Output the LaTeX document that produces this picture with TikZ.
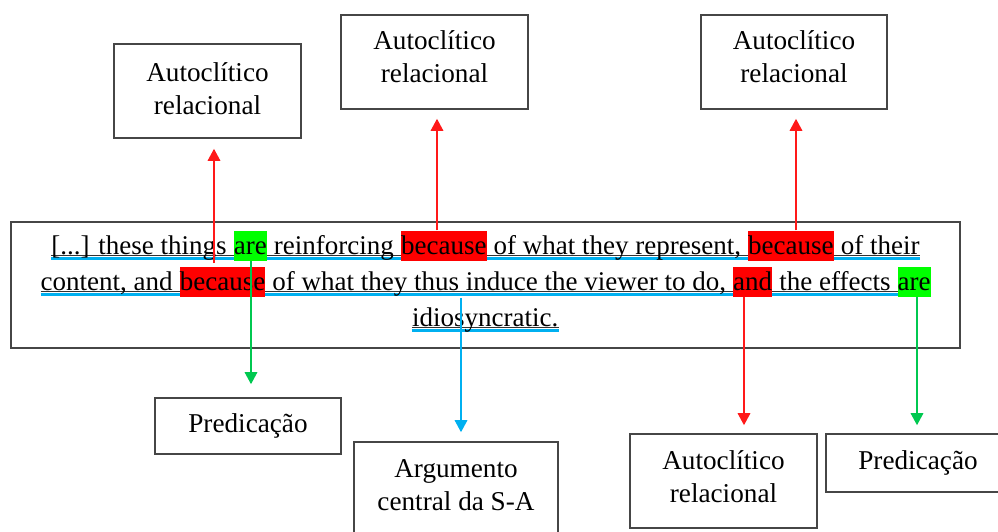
\documentclass[tikz,border=0pt]{standalone}
\usepackage{fontspec}
\setmainfont{Liberation Serif}
\usetikzlibrary{arrows.meta,calc}

\definecolor{hlred}{RGB}{255,0,0}
\definecolor{hlgreen}{RGB}{0,255,0}
\definecolor{linkred}{RGB}{255,25,25}
\definecolor{linkgreen}{RGB}{0,200,80}
\definecolor{linkblue}{RGB}{0,176,240}
\definecolor{framegray}{RGB}{70,70,70}

\newcommand\quotefont{\fontsize{27}{32}\selectfont}
\newcommand\labelfont{\fontsize{27.2}{33}\selectfont}
\newlength\wordgap
\newlength\rowA
\newlength\rowB
\newlength\rowC

\pgfdeclarelayer{under}
\pgfsetlayers{under,main}

\begin{document}
% widths of the quotation lines, used to centre them
\settowidth{\wordgap}{\quotefont\ }
\settowidth{\rowA}{\quotefont [...] these things are reinforcing because of what they represent, because of their}
\settowidth{\rowB}{\quotefont content, and because of what they thus induce the viewer to do, and the effects are}
\settowidth{\rowC}{\quotefont idiosyncratic.}
\begin{tikzpicture}[x=1pt,y=-1pt,
  lbl/.style={draw=framegray, line width=1.6pt, minimum width=187pt,
    minimum height=94pt, align=center, font=\labelfont, inner sep=0pt},
  lbltop/.style={lbl, execute at end node={\rule[-#1]{0pt}{0pt}}},
  word/.style={inner sep=0pt, anchor=base west, font=\quotefont},
  hl/.style={word, text height=23.5pt, text depth=6.5pt},
  hlred/.style={hl, fill=hlred},
  hlgreen/.style={hl, fill=hlgreen},
  textrule/.style={line width=1pt, black!80},
  bluerule/.style={line width=2.6pt, linkblue},
  link/.style={line width=1.6pt, -{Triangle[length=12pt,width=12.5pt]}}]

\useasboundingbox (0,0) rectangle (998,532);

% frame around the quotation
\node[draw=framegray, line width=1.6pt, minimum width=949pt, minimum height=126pt, inner sep=0pt] (quote) at (485.5,285) {};

% first line of the quotation
\node[word, xshift=-0.5*\rowA] (l1a) at (484,254) {[...] these things};
\node[hlgreen, xshift=\wordgap] (g1) at (l1a.base east) {are};
\node[word, xshift=\wordgap] (l1b) at (g1.base east) {reinforcing};
\node[hlred, xshift=\wordgap] (b1) at (l1b.base east) {because};
\node[word, xshift=\wordgap] (l1c) at (b1.base east) {of what they represent,};
\node[hlred, xshift=\wordgap] (b2) at (l1c.base east) {because};
\node[word, xshift=\wordgap] (l1d) at (b2.base east) {of their};

% second line
\node[word, xshift=-0.5*\rowB] (l2a) at (484.5,290) {content, and};
\node[hlred, xshift=\wordgap] (b3) at (l2a.base east) {because};
\node[word, xshift=\wordgap] (l2b) at (b3.base east) {of what they thus induce the viewer to do,};
\node[hlred, xshift=\wordgap] (n1) at (l2b.base east) {and};
\node[word, xshift=\wordgap] (l2c) at (n1.base east) {the effects};
\node[hlgreen, xshift=\wordgap] (g2) at (l2c.base east) {are};

% third line
\node[word, xshift=-0.5*\rowC] (l3) at (485,326) {idiosyncratic.};

% underlines beneath each line
\begin{pgfonlayer}{under}
  \foreach \s/\e in {l1a/l1d, l2a/g2, l3/l3} {
    \draw[textrule] ([yshift=-1.5pt]\s.base west) -- ([yshift=-1.5pt]\e.base east);
    \draw[bluerule] ([yshift=-4.2pt]\s.base west) -- ([yshift=-4.2pt]\e.base east);
  }
\end{pgfonlayer}

% category boxes
\node[lbltop=5pt] (a1) at (207.5,91) {Autoclítico\\relacional};
\node[lbltop=10pt] (a2) at (434.5,62) {Autoclítico\\relacional};
\node[lbltop=10pt, minimum width=186pt] (a3) at (794,62) {Autoclítico\\relacional};
\node[lbl, minimum width=186pt, minimum height=56pt] (p1) at (248,426) {Predicação};
\node[lbltop=8pt, minimum width=204pt] (arg) at (456,489) {Argumento\\central da S-A};
\node[lbltop=8pt] (a4) at (723.5,481) {Autoclítico\\relacional};
\node[lbl, minimum width=184pt, minimum height=58pt] (p2) at (918,463) {Predicação};

% connectors (start points on the marked words)
\coordinate (s1) at (214,263);
\coordinate (s2) at (b1.north -| 437,0);
\coordinate (s3) at (b2.north -| 796,0);
\coordinate (s4) at (g1.south -| 251,0);
\coordinate (s5) at (461,298);
\coordinate (s6) at (n1.south -| 744,0);
\coordinate (s7) at (g2.south -| 917,0);

\draw[link, linkred, shorten >=10pt] (s1) -- (s1 |- a1.south);
\draw[link, linkred, shorten >=9pt] (s2) -- (s2 |- a2.south);
\draw[link, linkred, shorten >=9pt] (s3) -- (s3 |- a3.south);
\draw[link, linkgreen, shorten >=13pt] (s4) -- (s4 |- p1.north);
\draw[link, linkblue, shorten >=9pt] (s5) -- (s5 |- arg.north);
\draw[link, linkred, shorten >=8pt] (s6) -- (s6 |- a4.north);
\draw[link, linkgreen, shorten >=8pt] (s7) -- (s7 |- p2.north);

\end{tikzpicture}
\end{document}
